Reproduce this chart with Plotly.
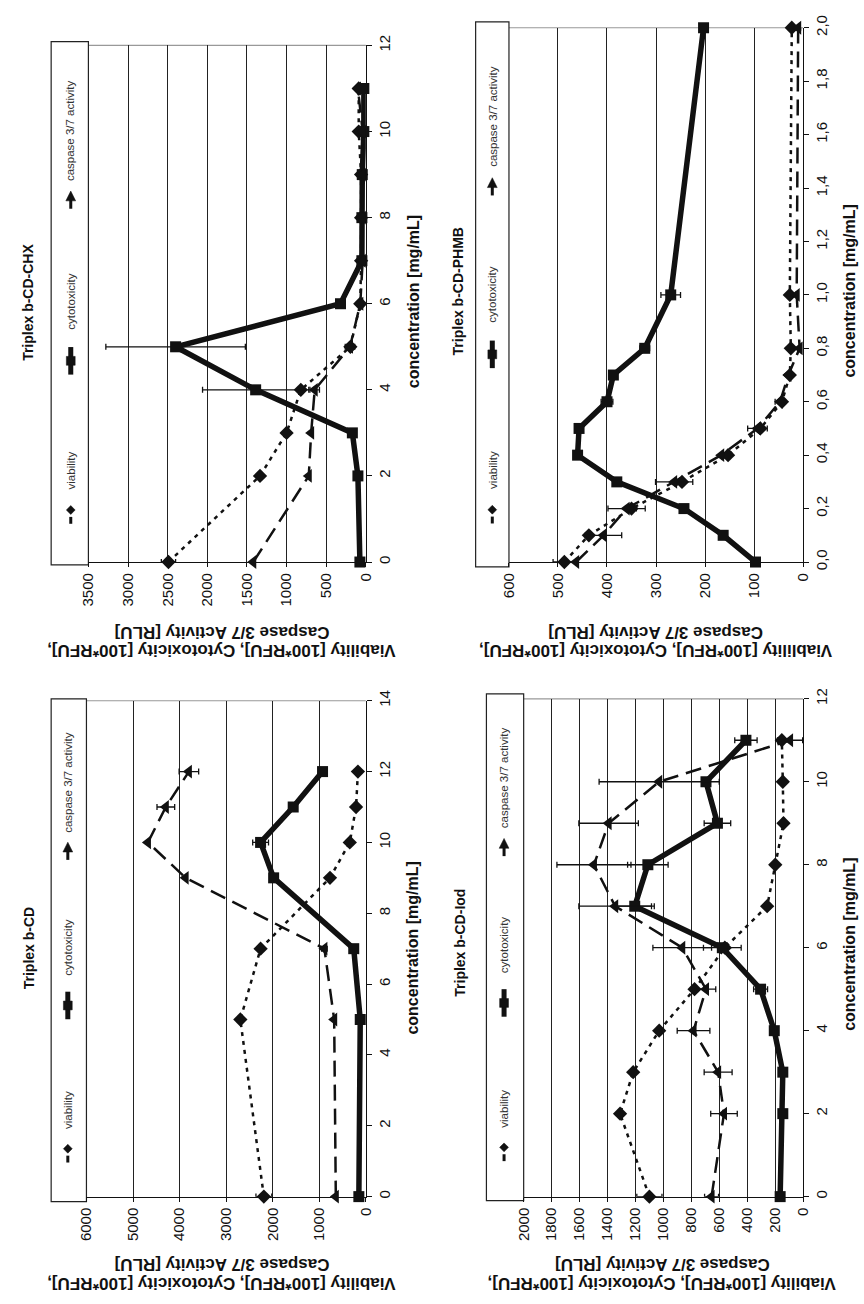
import plotly.graph_objects as go

W, H = 864, 1304
FONT = "Liberation Sans"

# ---------------- data ----------------
# Triplex b-CD-CHX
chx_conc = [0, 2, 3, 4, 5, 6, 7, 8, 9, 10, 11]
chx_viab = [2490, 1335, 1000, 820, 195, 70, 60, 60, 60, 90, 90]
chx_viab_err = [90, 0, 0, 0, 40, 0, 0, 0, 0, 0, 0]
chx_cyto = [75, 100, 170, 1390, 2400, 320, 50, 50, 45, 25, 25]
chx_cyto_err = [0, 0, 0, 670, 880, 40, 0, 0, 0, 0, 0]
chx_casp = [1420, 720, 690, 645, 200, 70, 40, 40, 40, 40, 100]
chx_casp_err = [0, 0, 0, 60, 60, 0, 0, 0, 0, 0, 0]

# Triplex b-CD-PHMB
phmb_conc = [0, 0.1, 0.2, 0.3, 0.4, 0.5, 0.6, 0.7, 0.8, 1.0, 2.0]
phmb_viab = [487, 437, 350, 247, 153, 87, 43, 27, 25, 27, 23]
phmb_viab_err = [23, 0, 10, 0, 0, 0, 0, 0, 0, 0, 0]
phmb_cyto = [97, 163, 243, 380, 460, 457, 400, 387, 323, 270, 203]
phmb_cyto_err = [0, 0, 0, 0, 0, 0, 12, 0, 10, 20, 0]
phmb_casp = [463, 407, 360, 263, 167, 93, 47, 30, 7, 13, 10]
phmb_casp_err = [0, 37, 38, 38, 0, 20, 10, 0, 0, 0, 5]
phmb_ticks = [0, 0.2, 0.4, 0.6, 0.8, 1.0, 1.2, 1.4, 1.6, 1.8, 2.0]
phmb_ticktext = ["0,0", "0,2", "0,4", "0,6", "0,8", "1,0", "1,2", "1,4", "1,6", "1,8", "2,0"]

# Triplex b-CD
bcd_conc = [0, 5, 7, 9, 10, 11, 12]
bcd_viab = [2190, 2695, 2260, 770, 345, 210, 170]
bcd_viab_err = [170, 0, 0, 0, 0, 0, 0]
bcd_cyto = [150, 120, 260, 1980, 2260, 1560, 930]
bcd_cyto_err = [0, 0, 0, 0, 170, 0, 0]
bcd_casp = [645, 680, 890, 3870, 4680, 4295, 3800]
bcd_casp_err = [0, 0, 60, 0, 0, 190, 210]

# Triplex b-CD-Iod
iod_conc = [0, 2, 3, 4, 5, 6, 7, 8, 9, 10, 11]
iod_viab = [1100, 1310, 1216, 1030, 777, 560, 257, 199, 140, 145, 152]
iod_viab_err = [90, 0, 0, 0, 0, 0, 0, 0, 0, 0, 0]
iod_cyto = [164, 145, 145, 206, 304, 578, 1205, 1111, 613, 695, 409]
iod_cyto_err = [0, 0, 0, 0, 50, 135, 140, 145, 95, 0, 80]
iod_casp = [655, 566, 608, 784, 695, 865, 1345, 1497, 1392, 1030, 93]
iod_casp_err = [50, 95, 100, 117, 70, 210, 260, 265, 213, 430, 90]

legend_names = ["viability", "cytotoxicity", "caspase 3/7 activity"]
label_line2 = "Caspase 3/7 Activity [RLU]"

# ---------------- layout geometry (pixels) ----------------
panels = [
    dict(title="Triplex b-CD-CHX", conc=chx_conc,
         series=[(chx_viab, chx_viab_err), (chx_cyto, chx_cyto_err), (chx_casp, chx_casp_err)],
         vmax=3500, vdt=500, cmax=12, cdt=2, ticks=None, ticktext=None,
         x0=81, x1=364, yt=33, yb=558, lx0=43, ly0=29, ly1=561, lcx=63,
         tx=20, ty=294, cx=412, cy=293, lab_x=217, lab_y1=648, lab_y2=629,
         label1="Viability [100*RFU], Cytotoxicity [100*RFU],"),
    dict(title="Triplex b-CD-PHMB", conc=phmb_conc,
         series=[(phmb_viab, phmb_viab_err), (phmb_cyto, phmb_cyto_err), (phmb_casp, phmb_casp_err)],
         vmax=600, vdt=100, cmax=2.0, cdt=0.2, ticks=phmb_ticks, ticktext=phmb_ticktext,
         x0=510, x1=810, yt=15, yb=558, lx0=476, ly0=9, ly1=563, lcx=493,
         tx=458, ty=283, cx=857, cy=283, lab_x=660, lab_y1=648, lab_y2=629,
         label1="Viablility [100*RFU], Cytotoxicity [100*RFU],"),
    dict(title="Triplex b-CD", conc=bcd_conc,
         series=[(bcd_viab, bcd_viab_err), (bcd_cyto, bcd_cyto_err), (bcd_casp, bcd_casp_err)],
         vmax=6000, vdt=1000, cmax=14, cdt=2, ticks=None, ticktext=None,
         x0=79, x1=364, yt=699, yb=1203, lx0=43, ly0=697, ly1=1208, lcx=60,
         tx=20, ty=951, cx=412, cy=950, lab_x=217, lab_y1=1292, lab_y2=1272,
         label1="Viability [100*RFU], Cytotoxicity [100*RFU],"),
    dict(title="Triplex b-CD-Iod", conc=iod_conc,
         series=[(iod_viab, iod_viab_err), (iod_cyto, iod_cyto_err), (iod_casp, iod_casp_err)],
         vmax=2000, vdt=200, cmax=12, cdt=2, ticks=None, ticktext=None,
         x0=525, x1=810, yt=697, yb=1203, lx0=487, ly0=692, ly1=1207, lcx=505,
         tx=460, ty=945, cx=858, cy=947, lab_x=666, lab_y1=1292, lab_y2=1272,
         label1="Viability [100*RFU], Cytotoxicity [100*RFU],"),
]


def px(x):
    return x / W


def py(y):
    return 1 - y / H


styles = [
    dict(line=dict(color="#111", width=2.5, dash="4px,5px"),
         marker=dict(symbol="diamond", size=11, color="#111")),
    dict(line=dict(color="#111", width=5.5),
         marker=dict(symbol="square", size=11, color="#111")),
    dict(line=dict(color="#111", width=2.5, dash="16px,8px"),
         marker=dict(symbol="triangle-left", size=12, color="#111")),
]

fig = go.Figure()
shapes = []
annotations = []

for i, p in enumerate(panels):
    sfx = "" if i == 0 else str(i + 1)
    xa, ya = "x" + sfx, "y" + sfx
    for (vals, errs), st in zip(p["series"], styles):
        fig.add_trace(go.Scatter(
            x=vals, y=p["conc"], xaxis=xa, yaxis=ya, mode="lines+markers",
            line=st["line"], marker=st["marker"], cliponaxis=False, showlegend=False,
            error_x=dict(type="data", array=errs, visible=True, color="#111",
                         thickness=1.3, width=3)))
    xkw = dict(domain=[px(p["x0"]), px(p["x1"])], range=[p["vmax"], 0], anchor=ya,
               dtick=p["vdt"], tick0=0, tickangle=-90, ticks="outside", ticklen=4,
               tickcolor="#111", showline=True, linecolor="#111", linewidth=1.2,
               showgrid=True, gridcolor="#222", gridwidth=1, zeroline=False,
               tickfont=dict(family=FONT, size=15, color="#111"), fixedrange=True)
    ykw = dict(domain=[py(p["yb"]), py(p["yt"])], range=[0, p["cmax"]], anchor=xa,
               side="right", tickangle=-90, ticks="outside", ticklen=5, tickcolor="#111",
               showline=True, linecolor="#111", linewidth=1.2, showgrid=False,
               zeroline=False, tickfont=dict(family=FONT, size=15, color="#111"),
               fixedrange=True)
    if p["ticks"] is not None:
        ykw.update(tickmode="array", tickvals=p["ticks"], ticktext=p["ticktext"])
    else:
        ykw.update(dtick=p["cdt"], tick0=0)
    fig.update_layout(**{("xaxis" + sfx): xkw, ("yaxis" + sfx): ykw})

    # plot-area top border (gray)
    shapes.append(dict(type="line", xref="paper", yref="paper",
                       x0=px(p["x0"]), x1=px(p["x1"]), y0=py(p["yt"]), y1=py(p["yt"]),
                       line=dict(color="#999", width=1.2), layer="below"))
    # legend box
    shapes.append(dict(type="rect", xref="paper", yref="paper",
                       x0=px(p["lx0"]), x1=px(p["x0"]), y0=py(p["ly1"]), y1=py(p["ly0"]),
                       line=dict(color="#222", width=1.2), fillcolor="white", layer="below"))
    lh = p["ly1"] - p["ly0"]
    cxl = p["lcx"]
    fr_mark = [0.105, 0.39, 0.705]
    fr_text = [0.14, 0.445, 0.73]
    for k in range(3):
        my = p["ly1"] - fr_mark[k] * lh
        ty = p["ly1"] - fr_text[k] * lh
        if k == 0:
            shapes.append(dict(type="line", xref="paper", yref="paper",
                               x0=px(cxl), x1=px(cxl), y0=py(my + 7), y1=py(my + 14),
                               line=dict(color="#111", width=3)))
            d = 4.5
            shapes.append(dict(type="path", xref="paper", yref="paper",
                               path=f"M {px(cxl)} {py(my-d)} L {px(cxl+d)} {py(my)} L {px(cxl)} {py(my+d)} L {px(cxl-d)} {py(my)} Z",
                               fillcolor="#111", line=dict(color="#111", width=0.5)))
        elif k == 1:
            shapes.append(dict(type="line", xref="paper", yref="paper",
                               x0=px(cxl), x1=px(cxl), y0=py(my - 14), y1=py(my + 14),
                               line=dict(color="#111", width=5)))
            d = 4.5
            shapes.append(dict(type="rect", xref="paper", yref="paper",
                               x0=px(cxl - d), x1=px(cxl + d), y0=py(my + d), y1=py(my - d),
                               fillcolor="#111", line=dict(color="#111", width=0.5)))
        else:
            shapes.append(dict(type="line", xref="paper", yref="paper",
                               x0=px(cxl), x1=px(cxl), y0=py(my + 2), y1=py(my + 13),
                               line=dict(color="#111", width=3)))
            d = 5
            shapes.append(dict(type="path", xref="paper", yref="paper",
                               path=f"M {px(cxl-d)} {py(my+d)} L {px(cxl)} {py(my-d)} L {px(cxl+d)} {py(my+d)} Z",
                               fillcolor="#111", line=dict(color="#111", width=0.5)))
        annotations.append(dict(xref="paper", yref="paper", x=px(cxl), y=py(ty),
                                xanchor="center", yanchor="bottom", textangle=-90,
                                text=legend_names[k], showarrow=False,
                                font=dict(family=FONT, size=11.5, color="#333")))
    # panel title
    annotations.append(dict(xref="paper", yref="paper", x=px(p["tx"]), y=py(p["ty"]),
                            xanchor="center", yanchor="middle", textangle=-90,
                            text="<b>" + p["title"] + "</b>", showarrow=False,
                            font=dict(family=FONT, size=14, color="#111")))
    # concentration title
    annotations.append(dict(xref="paper", yref="paper", x=px(p["cx"]), y=py(p["cy"]),
                            xanchor="center", yanchor="middle", textangle=-90,
                            text="<b>concentration [mg/mL]</b>", showarrow=False,
                            font=dict(family=FONT, size=16, color="#111")))
    # value-axis title (upside down, two lines)
    annotations.append(dict(xref="paper", yref="paper", x=px(p["lab_x"]), y=py(p["lab_y1"]),
                            xanchor="center", yanchor="middle", textangle=180,
                            text="<b>" + p["label1"] + "</b>", showarrow=False,
                            font=dict(family=FONT, size=17, color="#111")))
    annotations.append(dict(xref="paper", yref="paper", x=px(p["lab_x"]), y=py(p["lab_y2"]),
                            xanchor="center", yanchor="middle", textangle=180,
                            text="<b>" + label_line2 + "</b>", showarrow=False,
                            font=dict(family=FONT, size=17, color="#111")))

fig.update_layout(width=W, height=H, margin=dict(l=0, r=0, t=0, b=0),
                  paper_bgcolor="white", plot_bgcolor="white",
                  shapes=shapes, annotations=annotations, showlegend=False,
                  font=dict(family=FONT, color="#111"))

fig.write_html("out.html", config={"displayModeBar": False},
               post_script="document.body.style.margin='0';")
